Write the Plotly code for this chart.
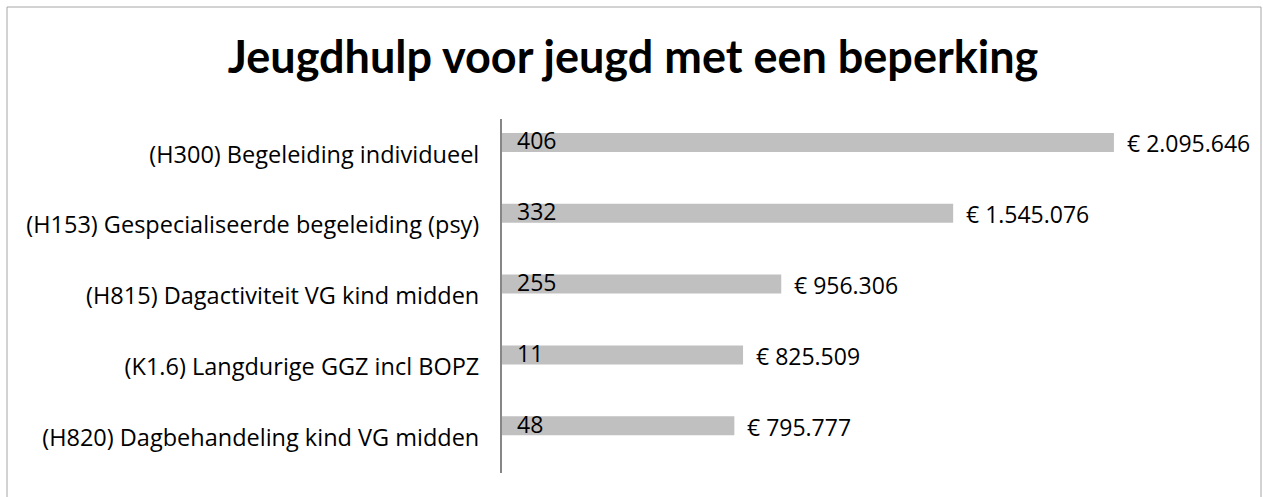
import plotly.graph_objects as go

# Jeugdhulp-producten: kosten en aantal cliënten
categories = [
    "(H300) Begeleiding individueel",
    "(H153) Gespecialiseerde begeleiding (psy)",
    "(H815) Dagactiviteit VG kind midden",
    "(K1.6) Langdurige GGZ incl BOPZ",
    "(H820) Dagbehandeling kind VG midden",
]
costs = [2095646, 1545076, 956306, 825509, 795777]
counts = [406, 332, 255, 11, 48]
title_text = "Jeugdhulp voor jeugd met een beperking"


def euro(v):
    return "€ " + f"{v:,}".replace(",", ".")


FONT = "Open Sans"
W, H = 1263, 497
L, R, T, B = 502, 1232, 119, 473  # plot area in pixels
XMAX = 2500000

fig = go.Figure(
    go.Bar(
        x=costs,
        y=categories,
        orientation="h",
        marker=dict(color="#c0c0c0", line=dict(width=0)),
        width=0.268,
        offset=-0.302,
        hoverinfo="skip",
    )
)

annotations = []
for cat, c, n in zip(categories, costs, counts):
    # cost label after the bar end
    annotations.append(dict(
        x=c, y=cat, xref="x", yref="y", text=euro(c), showarrow=False,
        xanchor="left", yanchor="middle", xshift=11, yshift=11,
        font=dict(family=FONT, size=23, color="#000000"),
    ))
    # client count at the start of the bar
    annotations.append(dict(
        x=0, y=cat, xref="x", yref="y", text=str(n), showarrow=False,
        xanchor="left", yanchor="middle", xshift=13, yshift=14,
        font=dict(family=FONT, size=23, color="#000000"),
    ))

# outer chart border
px = lambda v: (v - L) / (R - L)
py = lambda v: (B - v) / (B - T)
shapes = [dict(
    type="rect", xref="paper", yref="paper",
    x0=px(7), x1=px(1261), y0=py(502), y1=py(7),
    line=dict(color="#a6a6a6", width=1), fillcolor="rgba(0,0,0,0)", layer="below",
)]

fig.update_layout(
    width=W, height=H,
    margin=dict(l=L, r=W - R, t=T, b=H - B, pad=0),
    paper_bgcolor="white", plot_bgcolor="white",
    showlegend=False,
    title=dict(
        text="<b>" + title_text + "</b>", x=633 / W, xref="container", xanchor="center",
        y=1 - 57 / H, yanchor="middle", yref="container",
        font=dict(family="Lato", size=45, color="#000000"),
    ),
    xaxis=dict(range=[0, XMAX], visible=False, fixedrange=True),
    yaxis=dict(
        autorange="reversed", showgrid=False, zeroline=False,
        showline=True, linecolor="#868686", linewidth=2,
        ticks="", ticklabelstandoff=16,
        tickfont=dict(family=FONT, size=23.5, color="#000000"),
        fixedrange=True,
    ),
    annotations=annotations,
    shapes=shapes,
)

fig.write_html("out.html")
